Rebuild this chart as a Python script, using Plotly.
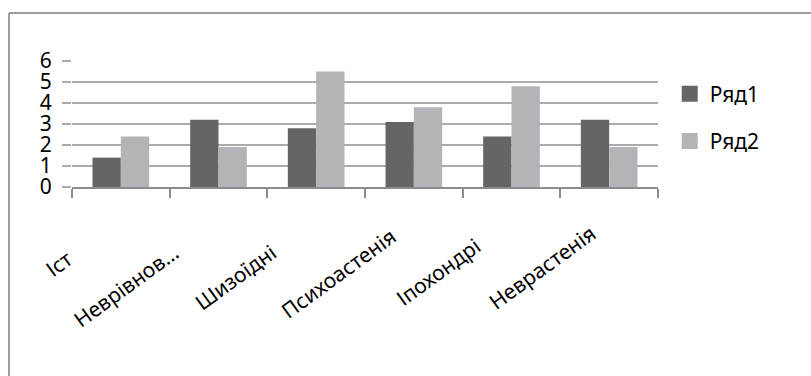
import plotly.graph_objects as go

# Category labels as they appear on the axis (long names are cut off)
NBSP = "\u00a0"
categories = ["Іст", "Неврівнов…", "Шизоїдні", "Психоастенія", "Іпохондрі", "Неврастенія"]
label_pad = [12, 10, 10, 5, 8, 4]  # trailing blanks so the cut labels sit lower on the axis
series1 = [1.4, 3.2, 2.8, 3.1, 2.4, 3.2]
series2 = [2.4, 1.9, 5.5, 3.8, 4.8, 1.9]
series_names = ["Ряд1", "Ряд2"]
y_ticks = [0, 1, 2, 3, 4, 5, 6]

colors = ["#656567", "#b3b4b8"]
font_family = "Noto Sans, Open Sans, sans-serif"

x_labels = [c + NBSP * p for c, p in zip(categories, label_pad)]

fig = go.Figure()
for name, vals, col, grp in zip(series_names, [series1, series2], colors, ["g1", "g2"]):
    fig.add_trace(go.Bar(
        x=x_labels, y=vals, name=name, marker=dict(color=col, line=dict(width=0)),
        showlegend=False, legendgroup=grp,
    ))
# Legend entries with larger square swatches
for name, col, grp in zip(series_names, colors, ["g1", "g2"]):
    fig.add_trace(go.Scatter(
        x=[None], y=[None], mode="markers", name=name, legendgroup=grp,
        marker=dict(symbol="square", size=17, color=col),
    ))

fig.update_layout(
    width=811, height=376,
    margin=dict(l=72, r=153, t=61, b=189),
    paper_bgcolor="white", plot_bgcolor="white",
    barmode="group", bargap=0.42, bargroupgap=0,
    font=dict(family=font_family, color="black"),
    legend=dict(
        x=1.02, y=0.9, xanchor="left", yanchor="top",
        font=dict(size=21, family=font_family),
        tracegroupgap=17, itemclick=False,
    ),
    xaxis=dict(
        type="category", tickangle=-36,
        showline=True, linecolor="#8c8c8c", linewidth=1.5,
        ticks="outside", tickson="boundaries", ticklen=9, tickcolor="#8c8c8c", tickwidth=1.5,
        showgrid=False, tickfont=dict(size=21, family=font_family),
        ticklabelstandoff=12,
    ),
    yaxis=dict(
        range=[0, 6], tickvals=y_ticks, ticktext=[str(v) for v in y_ticks],
        showline=False, zeroline=False,
        showgrid=True, gridcolor="#ababab", gridwidth=1.5,
        ticks="outside", ticklen=9, tickcolor="#ababab", tickwidth=1.5,
        tickfont=dict(size=21, family=font_family),
        ticklabelstandoff=6,
    ),
    shapes=[
        # chart frame (top and left edges)
        dict(type="line", xref="paper", yref="paper", x0=-0.1075, x1=1.5, y0=1.381, y1=1.381,
             line=dict(color="#9d9d9d", width=2)),
        dict(type="line", xref="paper", yref="paper", x0=-0.1075, x1=-0.1075, y0=1.381, y1=-2,
             line=dict(color="#9d9d9d", width=2)),
    ],
)

fig.write_html("out.html")
